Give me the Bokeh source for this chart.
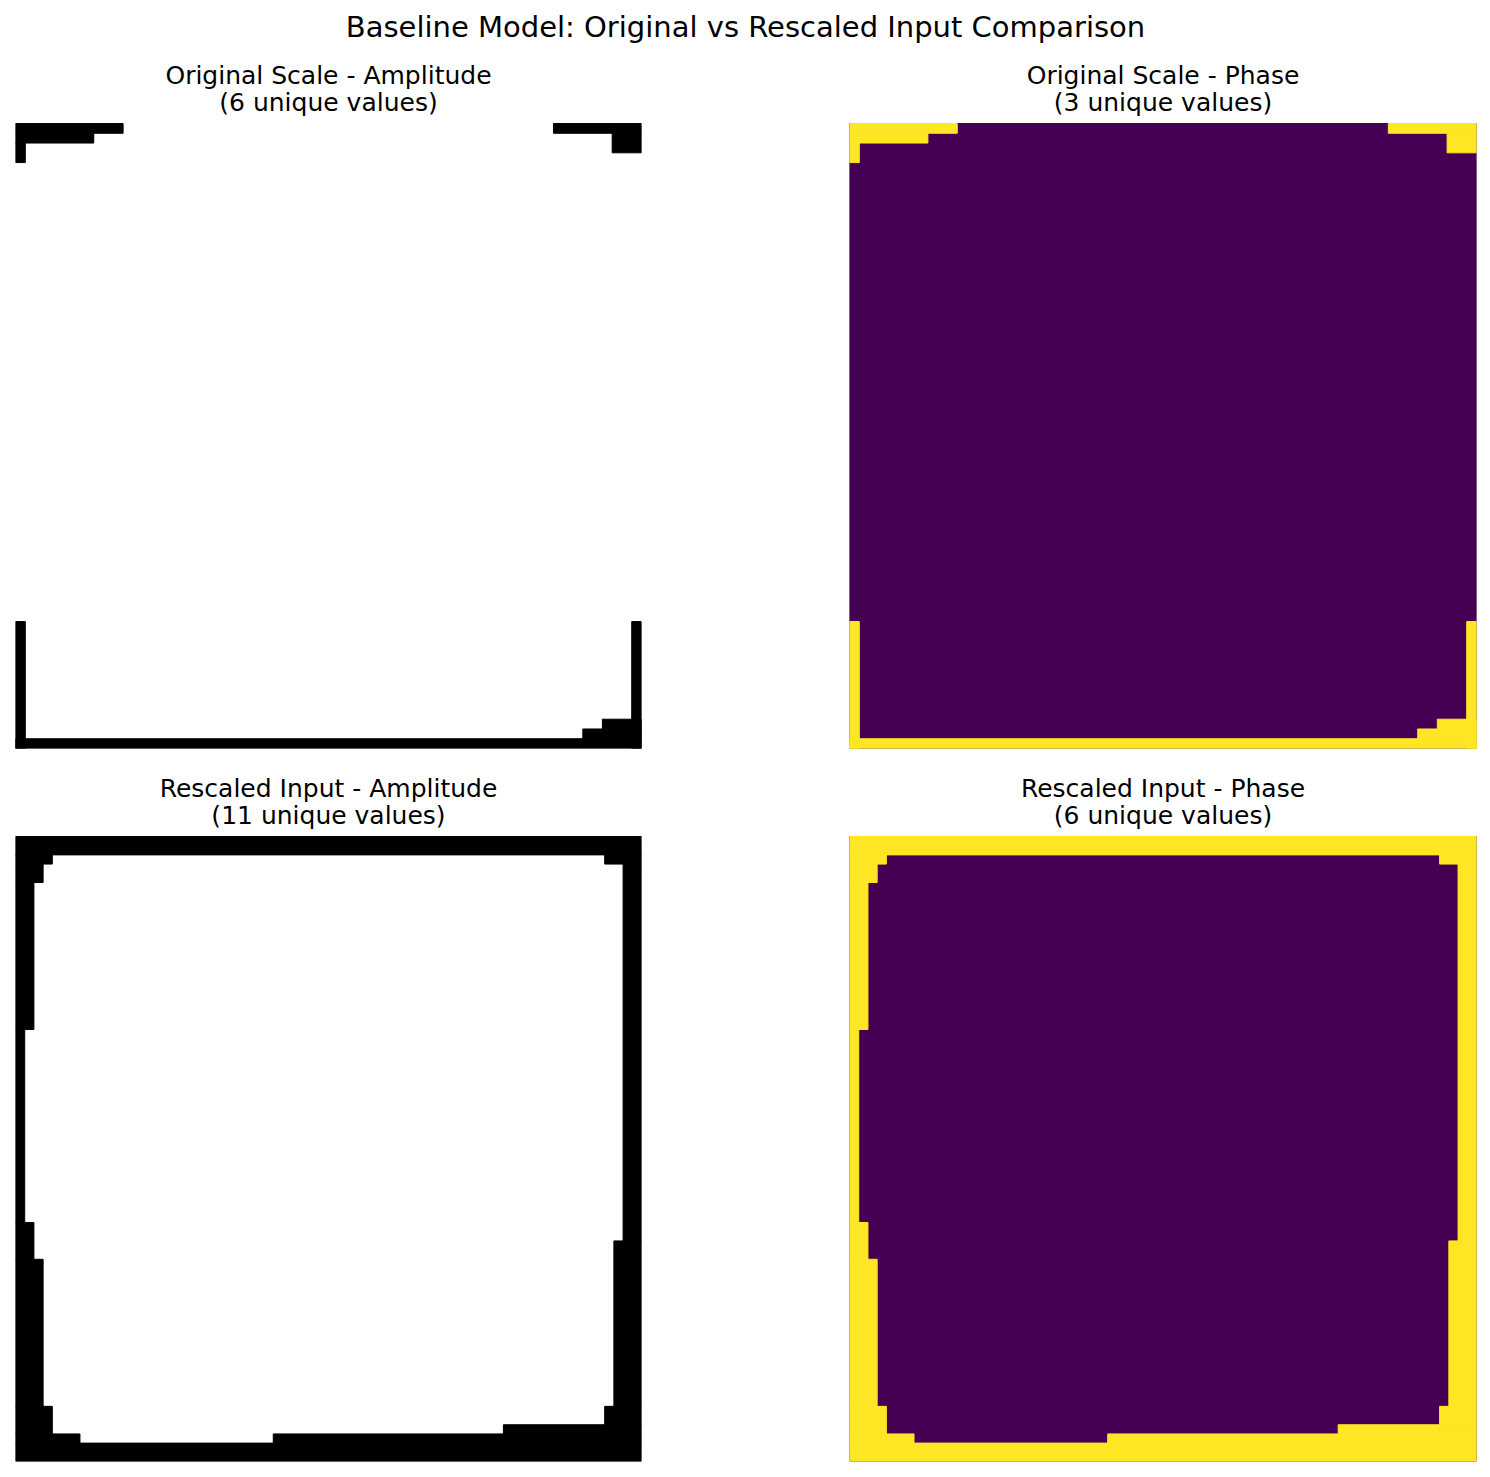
import numpy as np
from bokeh.plotting import figure
from bokeh.models import ColumnDataSource, Range1d
from bokeh.layouts import column, row
from bokeh.palettes import Viridis256
from bokeh.transform import linear_cmap
from bokeh.core.properties import value
from bokeh.embed import file_html
from bokeh.resources import INLINE

# ---------------- data ----------------
suptitle = "Baseline Model: Original vs Rescaled Input Comparison"
titles = [
    ("Original Scale - Amplitude", "(6 unique values)"),
    ("Original Scale - Phase", "(3 unique values)"),
    ("Rescaled Input - Amplitude", "(11 unique values)"),
    ("Rescaled Input - Phase", "(6 unique values)"),
]

ORIG_SIZE = 64
RESC_SIZE = 68

# edge cells as runs: (first_row, last_row, first_col, last_col); row 0 = top row of the image
orig_edge_runs = [
    (0, 0, 0, 10), (0, 0, 55, 63),
    (1, 1, 0, 7), (1, 2, 61, 63),
    (2, 3, 0, 0),
    (51, 63, 0, 0), (51, 63, 63, 63),
    (61, 61, 60, 63), (62, 62, 58, 63),
    (63, 63, 0, 63),
]
resc_edge_runs = [
    (0, 1, 0, 67),
    (2, 2, 0, 3), (2, 2, 64, 67),
    (3, 4, 0, 2),
    (3, 43, 66, 67),
    (5, 20, 0, 1),
    (21, 41, 0, 0),
    (42, 45, 0, 1),
    (44, 61, 65, 67),
    (46, 61, 0, 2),
    (62, 63, 64, 67),
    (62, 64, 0, 3),
    (64, 64, 53, 67),
    (65, 65, 0, 6), (65, 65, 28, 67),
    (66, 67, 0, 67),
]

amp_edge_value, amp_inner_value = 0.0, 1.0
phase_edge_value, phase_inner_value = 1.0, 0.0

GRAY = ["#%02x%02x%02x" % (i, i, i) for i in range(256)]
FONT = "DejaVu Sans"

IMG_PX = 625          # image side on screen, px
TITLE_GAPS = (48, 21)  # px from image top to centre of title line 1 / line 2


def cells_source(size, runs, edge_val, inner_val):
    left, right, top, bottom, val = [0], [size], [size], [0], [inner_val]
    for r0, r1, c0, c1 in runs:
        left.append(c0)
        right.append(c1 + 1)
        top.append(size - r0)
        bottom.append(size - r1 - 1)
        val.append(edge_val)
    return ColumnDataSource(dict(left=left, right=right, top=top, bottom=bottom, val=val))


def panel(title_lines, size, runs, edge_val, inner_val, palette, width, height, bl, br, bb):
    frame_h = height - bb
    unit = size / IMG_PX  # data units per px
    p = figure(width=width, height=height,
               x_range=Range1d(0, size), y_range=Range1d(0, frame_h * unit),
               output_backend="svg", toolbar_location=None, tools="",
               x_axis_location=None, y_axis_location=None,
               min_border_left=bl, min_border_right=br,
               min_border_top=0, min_border_bottom=bb)
    p.grid.visible = False
    p.outline_line_color = None
    p.background_fill_color = "white"
    p.border_fill_color = "white"
    src = cells_source(size, runs, edge_val, inner_val)
    cmap = linear_cmap("val", palette, 0.0, 1.0)
    p.quad(left="left", right="right", top="top", bottom="bottom", source=src,
           fill_color=cmap, line_color=cmap, line_width=1)
    for line, gap in zip(title_lines, TITLE_GAPS):
        p.text(x=[size / 2], y=[size + gap * unit], text=[line],
               text_align="center", text_baseline="middle",
               text_font=value(FONT), text_font_size="25px", text_color="black")
    return p


header = figure(width=1490, height=50, x_range=Range1d(0, 1), y_range=Range1d(0, 1),
                output_backend="svg", toolbar_location=None, tools="",
                x_axis_location=None, y_axis_location=None,
                min_border_left=0, min_border_right=0, min_border_top=0, min_border_bottom=0)
header.grid.visible = False
header.outline_line_color = None
header.text(x=[0.5], y=[0.48], text=[suptitle], text_align="center", text_baseline="middle",
            text_font=value(FONT), text_font_size="29px", text_color="black")

tl = panel(titles[0], ORIG_SIZE, orig_edge_runs, amp_edge_value, amp_inner_value, GRAY,
           745, 710, 15, 104, 12)
tr = panel(titles[1], ORIG_SIZE, orig_edge_runs, phase_edge_value, phase_inner_value, Viridis256,
           745, 710, 104, 14, 12)
bl = panel(titles[2], RESC_SIZE, resc_edge_runs, amp_edge_value, amp_inner_value, GRAY,
           745, 717, 15, 104, 16)
br = panel(titles[3], RESC_SIZE, resc_edge_runs, phase_edge_value, phase_inner_value, Viridis256,
           745, 717, 104, 14, 16)

layout = column(header, row(tl, tr, spacing=0), row(bl, br, spacing=0), spacing=0)

with open("out.html", "w") as f:
    f.write(file_html(layout, INLINE))
